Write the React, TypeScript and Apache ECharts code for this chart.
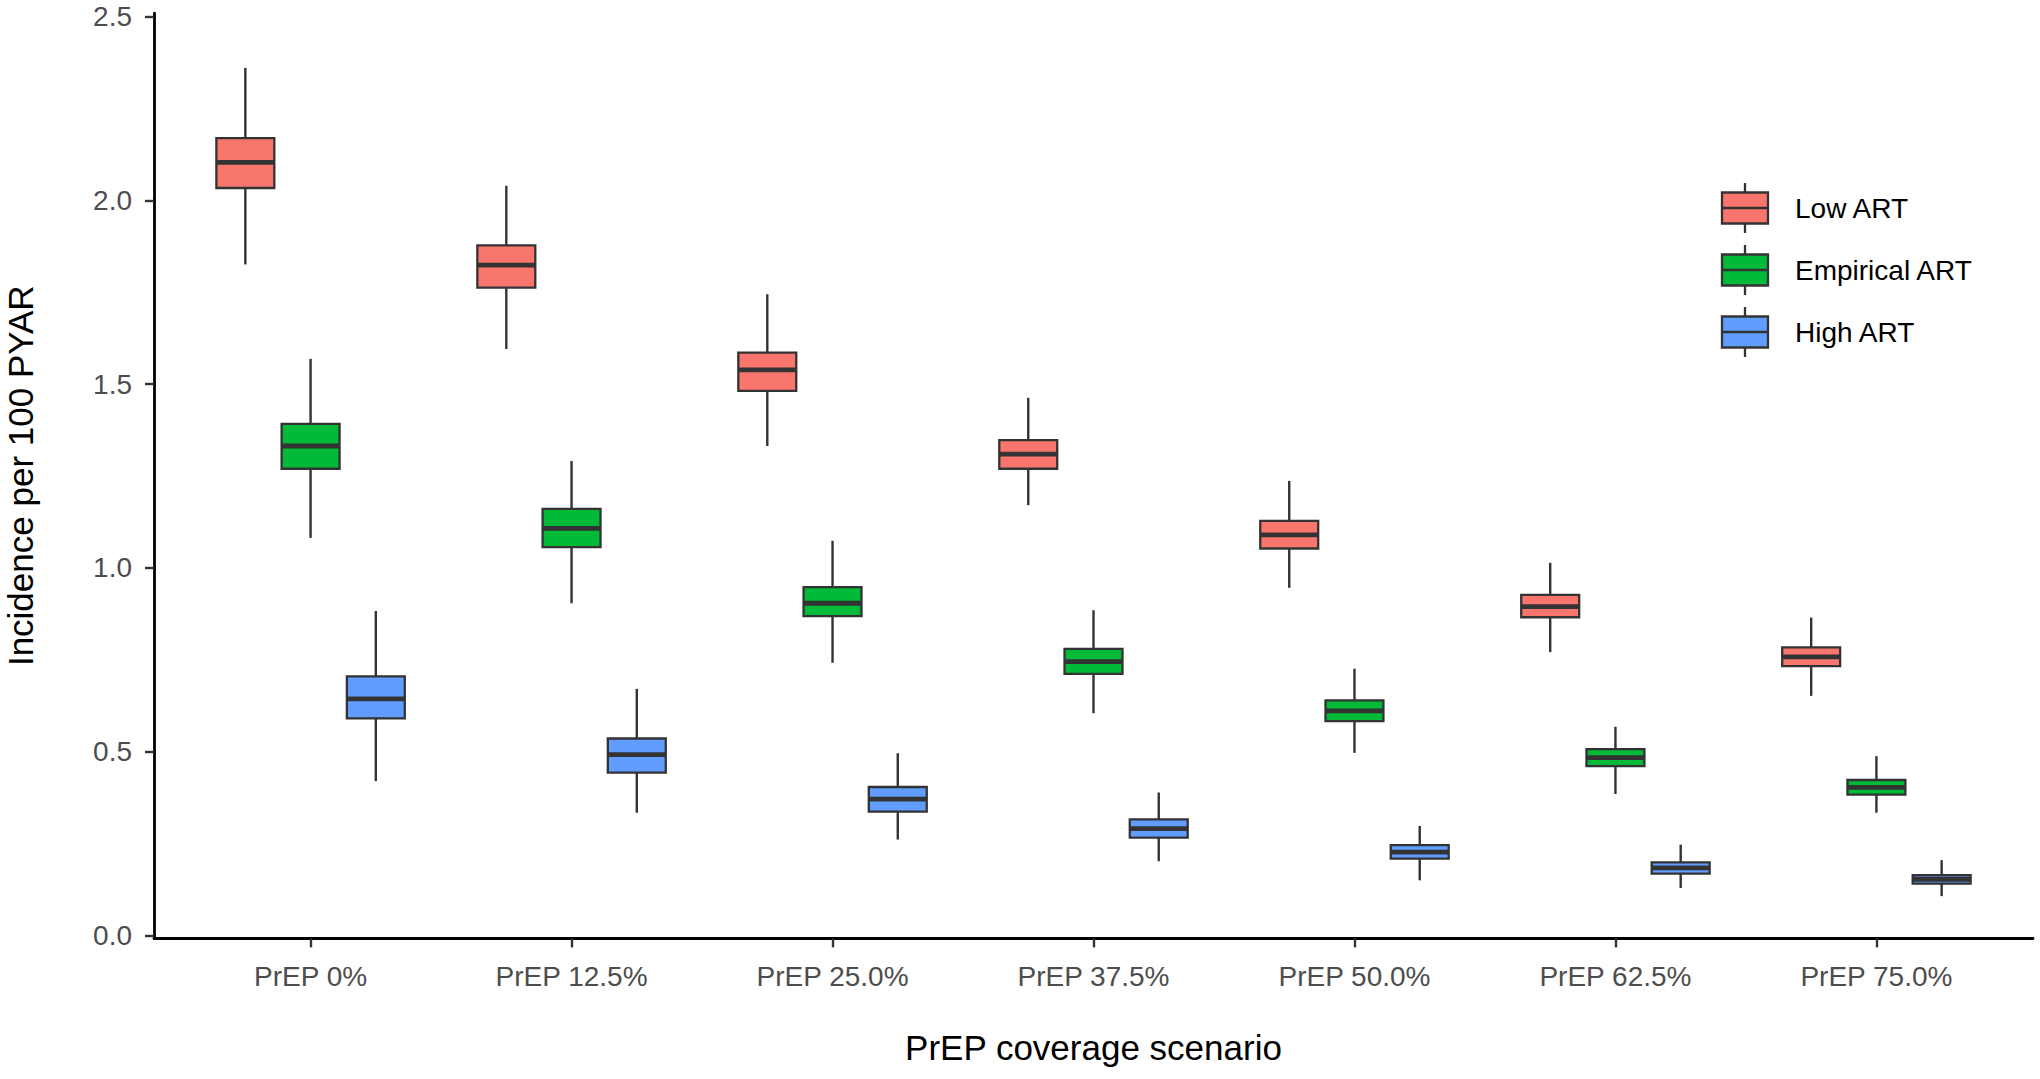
import React, { useEffect, useRef } from "react";
import * as echarts from "echarts";

const categories = ["PrEP 0%", "PrEP 12.5%", "PrEP 25.0%", "PrEP 37.5%", "PrEP 50.0%", "PrEP 62.5%", "PrEP 75.0%"];
const seriesNames = ["Low ART", "Empirical ART", "High ART"];
const seriesColors = ["#F8766D", "#00BA38", "#619CFF"];
const yTicks = [0, 0.5, 1, 1.5, 2, 2.5];

// [lower whisker, Q1, median, Q3, upper whisker] per PrEP scenario
const lowART = [
  [1.826, 2.034, 2.104, 2.17, 2.361],
  [1.596, 1.763, 1.824, 1.878, 2.04],
  [1.332, 1.482, 1.539, 1.586, 1.745],
  [1.171, 1.27, 1.31, 1.348, 1.463],
  [0.946, 1.053, 1.09, 1.128, 1.237],
  [0.771, 0.866, 0.895, 0.927, 1.014],
  [0.652, 0.733, 0.758, 0.784, 0.865],
];
const empiricalART = [
  [1.082, 1.27, 1.332, 1.392, 1.569],
  [0.904, 1.057, 1.108, 1.161, 1.291],
  [0.742, 0.869, 0.904, 0.948, 1.074],
  [0.605, 0.712, 0.745, 0.78, 0.885],
  [0.497, 0.583, 0.611, 0.64, 0.726],
  [0.385, 0.461, 0.484, 0.507, 0.568],
  [0.334, 0.383, 0.403, 0.423, 0.488],
];
const highART = [
  [0.42, 0.591, 0.644, 0.705, 0.883],
  [0.334, 0.443, 0.492, 0.536, 0.671],
  [0.261, 0.337, 0.371, 0.404, 0.496],
  [0.202, 0.266, 0.291, 0.316, 0.389],
  [0.15, 0.209, 0.227, 0.246, 0.298],
  [0.129, 0.168, 0.184, 0.199, 0.247],
  [0.107, 0.141, 0.153, 0.164, 0.205],
];
const seriesData = [lowART, empiricalART, highART];

const DODGE = [-0.25, 0, 0.25];
const BOX_W = 0.222;
const FONT = "'Liberation Sans', Arial, Helvetica, sans-serif";
const LINE = "#333333";

export default function App() {
  const ref = useRef<HTMLDivElement>(null);

  useEffect(() => {
    if (!ref.current) return;
    const chart = echarts.init(ref.current, undefined, { renderer: "svg" });

    const series = seriesNames.map((name, si) => ({
      type: "custom",
      name,
      data: seriesData[si].map((d, ci) => [ci + 1, ...d]),
      encode: { x: 0, y: [1, 2, 3, 4, 5] },
      itemStyle: { color: seriesColors[si] },
      renderItem: (params: any, api: any) => {
        const cx = api.value(0) + DODGE[si];
        const lo = api.coord([cx, api.value(1)]);
        const q1 = api.coord([cx, api.value(2)]);
        const med = api.coord([cx, api.value(3)]);
        const q3 = api.coord([cx, api.value(4)]);
        const hi = api.coord([cx, api.value(5)]);
        const half = api.size([BOX_W, 0])[0] / 2;
        const px = lo[0];
        return {
          type: "group",
          children: [
            { type: "line", shape: { x1: px, y1: hi[1], x2: px, y2: q3[1] }, style: { stroke: LINE, lineWidth: 2.4 } },
            { type: "line", shape: { x1: px, y1: q1[1], x2: px, y2: lo[1] }, style: { stroke: LINE, lineWidth: 2.4 } },
            {
              type: "rect",
              shape: { x: px - half, y: q3[1], width: half * 2, height: q1[1] - q3[1] },
              style: { fill: seriesColors[si], stroke: LINE, lineWidth: 2.3 },
            },
            { type: "line", shape: { x1: px - half, y1: med[1], x2: px + half, y2: med[1] }, style: { stroke: LINE, lineWidth: 4.8 } },
          ],
        };
      },
    }));

    const legendGraphics: any[] = [];
    seriesNames.forEach((name, i) => {
      const cy = 208 + i * 62;
      const x0 = 1722;
      const w = 46;
      legendGraphics.push(
        { type: "line", shape: { x1: x0 + w / 2, y1: cy - 25, x2: x0 + w / 2, y2: cy + 25 }, style: { stroke: LINE, lineWidth: 2.3 } },
        { type: "rect", shape: { x: x0, y: cy - 15.5, width: w, height: 31 }, style: { fill: seriesColors[i], stroke: LINE, lineWidth: 2.3 } },
        { type: "line", shape: { x1: x0, y1: cy, x2: x0 + w, y2: cy }, style: { stroke: LINE, lineWidth: 2.5 } },
        {
          type: "text",
          x: 1795,
          y: cy,
          style: { text: name, fill: "#000000", font: `28px ${FONT}`, textVerticalAlign: "middle", textAlign: "left" },
        }
      );
    });

    chart.setOption({
      animation: false,
      backgroundColor: "#ffffff",
      textStyle: { fontFamily: FONT },
      grid: { left: 154, right: 7, top: 13.1, bottom: 140.6, containLabel: false, outerBoundsMode: "none" },
      xAxis: {
        type: "value",
        min: 0.4,
        max: 7.6,
        name: "PrEP coverage scenario",
        nameLocation: "middle",
        nameGap: 92,
        nameTextStyle: { fontSize: 35, color: "#000000", fontFamily: FONT },
        axisLine: { show: true, onZero: false, lineStyle: { color: "#000000", width: 2.8 } },
        axisTick: { show: true, length: 9, customValues: [1, 2, 3, 4, 5, 6, 7], lineStyle: { color: LINE, width: 2.4 } },
        axisLabel: {
          show: true,
          customValues: [1, 2, 3, 4, 5, 6, 7],
          formatter: (v: number) => categories[Math.round(v) - 1] ?? "",
          fontSize: 28,
          color: "#4D4D4D",
          margin: 24,
          fontFamily: FONT,
        },
        splitLine: { show: false },
      },
      yAxis: {
        type: "value",
        min: -0.008,
        max: 2.51,
        name: "Incidence per 100 PYAR",
        nameLocation: "middle",
        nameRotate: 90,
        nameGap: 116,
        nameTextStyle: { fontSize: 35, color: "#000000", fontFamily: FONT },
        axisLine: { show: true, onZero: false, lineStyle: { color: "#000000", width: 2.8 } },
        axisTick: { show: true, length: 9, customValues: yTicks, lineStyle: { color: LINE, width: 2.4 } },
        axisLabel: {
          show: true,
          customValues: yTicks,
          formatter: (v: number) => v.toFixed(1),
          fontSize: 28,
          color: "#4D4D4D",
          margin: 22,
          fontFamily: FONT,
        },
        splitLine: { show: false },
      },
      graphic: legendGraphics,
      series,
    });

    return () => chart.dispose();
  }, []);

  return <div ref={ref} style={{ position: "fixed", left: 0, top: 0, width: 2040, height: 1079 }} />;
}
